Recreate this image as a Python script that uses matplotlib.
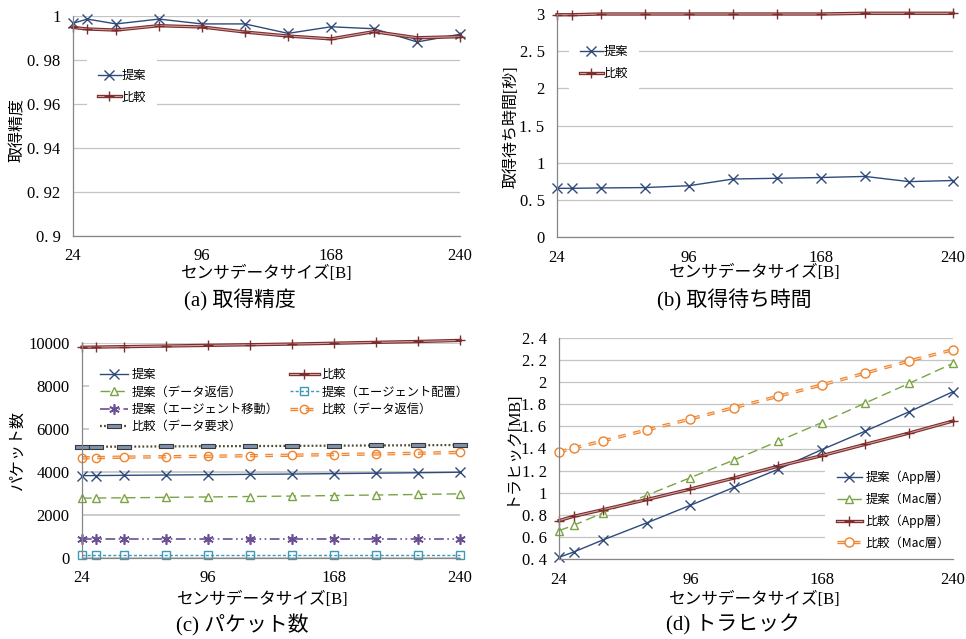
import matplotlib
matplotlib.use("Agg")
import matplotlib.pyplot as plt
from matplotlib.font_manager import FontProperties

plt.rcParams['lines.scale_dashes'] = False

# センサデータサイズ [B]
sizes = [24, 32, 48, 72, 96, 120, 144, 168, 192, 216, 240]
x_ticks = [24, 96, 168, 240]

# (a) 取得精度
acc_prop = [0.9967, 0.9986, 0.9964, 0.9986, 0.9964, 0.9964, 0.9921, 0.9951, 0.9942, 0.9882, 0.9917]
acc_comp = [0.9948, 0.9941, 0.9936, 0.9956, 0.9950, 0.9927, 0.9909, 0.9896, 0.9929, 0.9901, 0.9906]
acc_ticks = [0.9, 0.92, 0.94, 0.96, 0.98, 1.0]
acc_labels = ["0. 9", "0. 92", "0. 94", "0. 96", "0. 98", "1"]

# (b) 取得待ち時間 [秒]
wait_prop = [0.655, 0.655, 0.66, 0.665, 0.69, 0.78, 0.79, 0.80, 0.815, 0.745, 0.76]
wait_comp = [2.99, 2.99, 3.0, 3.0, 3.0, 3.0, 3.0, 3.0, 3.01, 3.01, 3.01]
wait_ticks = [0, 0.5, 1, 1.5, 2, 2.5, 3]
wait_labels = ["0", "0. 5", "1", "1. 5", "2", "2. 5", "3"]

# (c) パケット数
pk_prop = [3830, 3835, 3845, 3860, 3875, 3890, 3905, 3925, 3945, 3965, 3990]
pk_comp = [9800, 9810, 9830, 9860, 9890, 9920, 9950, 9990, 10030, 10070, 10120]
pk_prop_reply = [2780, 2790, 2800, 2820, 2840, 2860, 2880, 2905, 2930, 2955, 2985]
pk_prop_place = [120, 120, 120, 120, 120, 120, 120, 120, 120, 120, 120]
pk_prop_move = [895, 895, 895, 895, 895, 895, 895, 895, 895, 895, 895]
pk_comp_reply = [4660, 4670, 4690, 4710, 4730, 4760, 4780, 4810, 4840, 4870, 4910]
pk_comp_req = [5170, 5175, 5180, 5190, 5200, 5205, 5215, 5225, 5235, 5245, 5255]
pk_ticks = [0, 2000, 4000, 6000, 8000, 10000]
pk_labels = ["0", "2000", "4000", "6000", "8000", "10000"]

# (d) トラヒック [MB]
tr_prop_app = [0.415, 0.463, 0.572, 0.726, 0.886, 1.049, 1.211, 1.389, 1.558, 1.733, 1.914]
tr_prop_mac = [0.656, 0.705, 0.816, 0.976, 1.136, 1.296, 1.465, 1.634, 1.812, 1.990, 2.171]
tr_comp_app = [0.747, 0.786, 0.846, 0.937, 1.033, 1.133, 1.239, 1.335, 1.438, 1.540, 1.649]
tr_comp_mac = [1.368, 1.404, 1.468, 1.567, 1.667, 1.770, 1.872, 1.975, 2.083, 2.192, 2.294]
tr_ticks = [0.4, 0.6, 0.8, 1.0, 1.2, 1.4, 1.6, 1.8, 2.0, 2.2, 2.4]
tr_labels = ["0. 4", "0. 6", "0. 8", "1", "1. 2", "1. 4", "1. 6", "1. 8", "2", "2. 2", "2. 4"]

NAVY = '#2f4b7c'
RED = '#7d2c2c'
RED_IN = '#cfa0a0'
GREEN = '#7aa444'
TEAL = '#3e9ab8'
PURPLE = '#6a4f94'
ORANGE = '#f0822a'
ORANGE_IN = '#fbd8bc'
OLIVE = '#4f4a2c'
SLATE = '#7f93ad'

W, H = 966, 639
serif_cjk = ['Liberation Serif', 'Noto Sans CJK JP']
leg_font = FontProperties(family=['Noto Sans CJK JP', 'DejaVu Sans'], size=8.8)

fig = plt.figure(figsize=(W / 100, H / 100), dpi=100)


def make_axes(l, t, r, b):
    ax = fig.add_axes([l / W, 1 - b / H, (r - l) / W, (b - t) / H])
    for s in ('top', 'right'):
        ax.spines[s].set_visible(False)
    for s in ('left', 'bottom'):
        ax.spines[s].set_color('#868686')
        ax.spines[s].set_linewidth(0.9)
    ax.grid(axis='y', color='#c4c4c4', linewidth=0.9)
    ax.set_axisbelow(True)
    ax.set_xlim(24, 240)
    ax.tick_params(length=0, pad=9, labelsize=12)
    return ax


def set_y(ax, lo, hi, ticks, labels):
    ax.set_ylim(lo, hi)
    ax.set_yticks(ticks)
    ax.set_yticklabels(labels, family='Liberation Serif', fontsize=12)
    ax.set_xticks(x_ticks)
    ax.set_xticklabels([str(v) for v in x_ticks], family='Liberation Serif', fontsize=12)


def double_line(ax, y, outer, inner, marker, ms, ls='-', lw_out=2.4, lw_in=0.8, mfc='none'):
    halo = ax.plot(sizes, y, color=outer, lw=lw_out, ls=ls, clip_on=False, dash_capstyle='butt')[0]
    core = ax.plot(sizes, y, color=inner, lw=lw_in, ls=ls, marker=marker, ms=ms,
                   mec=outer, mfc=mfc, mew=1.0, clip_on=False, dash_capstyle='butt')[0]
    return (halo, core)


def texts(cx_lab, y_lab, ylab_x, ylab_y, ylab, cx_cap, y_cap, cap):
    fig.text(cx_lab / W, 1 - y_lab / H, "センサデータサイズ[B]", ha='center', va='center',
             family=serif_cjk, fontsize=12)
    fig.text(ylab_x / W, 1 - ylab_y / H, ylab, ha='center', va='center', rotation=90,
             family=serif_cjk, fontsize=11.5)
    fig.text(cx_cap / W, 1 - y_cap / H, cap, ha='center', va='center',
             family=serif_cjk, fontsize=15)


def place_legend(ax, handles, labels, x, y, **kw):
    leg = ax.legend(handles, labels, loc='upper left', bbox_to_anchor=(x / W, 1 - y / H),
                    bbox_transform=fig.transFigure, borderaxespad=0, prop=leg_font,
                    frameon=True, facecolor='white', edgecolor='none', framealpha=1,
                    fancybox=False, **kw)
    # white box hides the gridlines but stays under the data lines
    leg.set_zorder(1.5)
    return leg


# ---- (a) 取得精度
ax = make_axes(73, 16, 460, 236)
set_y(ax, 0.9, 1.0, acc_ticks, acc_labels)
h1 = ax.plot(sizes, acc_prop, color=NAVY, lw=1.0, marker='x', ms=6.5, mew=1.0, clip_on=False)[0]
h2 = double_line(ax, acc_comp, RED, RED_IN, '+', 7)
place_legend(ax, [h1, h2], ["提案", "比較"], 87, 58, handlelength=1.85,
             handletextpad=0.1, labelspacing=0.7, borderpad=0.9)
texts(267, 274, 18, 130, "取得精度", 240, 300, "(a) 取得精度")

# ---- (b) 取得待ち時間
ax = make_axes(557, 14, 953, 237)
set_y(ax, 0, 3, wait_ticks, wait_labels)
h1 = ax.plot(sizes, wait_prop, color=NAVY, lw=1.0, marker='x', ms=6.5, mew=1.0, clip_on=False)[0]
h2 = double_line(ax, wait_comp, RED, RED_IN, '+', 7)
place_legend(ax, [h1, h2], ["提案", "比較"], 569, 34, handlelength=1.85,
             handletextpad=0.1, labelspacing=0.75, borderpad=0.9)
texts(755, 273, 512, 127, "取得待ち時間[秒]", 734, 300, "(b) 取得待ち時間")

# ---- (c) パケット数
ax = make_axes(82, 343, 460, 558)
set_y(ax, 0, 10000, pk_ticks, pk_labels)
ax.grid(axis='y', color='#cccccc', linewidth=1.4)
c_prop = ax.plot(sizes, pk_prop, color=NAVY, lw=1.0, marker='x', ms=6.5, mew=1.0, clip_on=False)[0]
c_comp = double_line(ax, pk_comp, RED, RED_IN, '+', 7)
c_reply = ax.plot(sizes, pk_prop_reply, color=GREEN, lw=1.0, ls=(0, (7, 3.5)), marker='^',
                  ms=6, mew=1.0, mfc='white', clip_on=False)[0]
c_place = ax.plot(sizes, pk_prop_place, color=TEAL, lw=1.0, ls=(0, (2.2, 1.5)), marker='s',
                  ms=5.5, mew=1.0, mfc='none', clip_on=False)[0]
c_move = ax.plot(sizes, pk_prop_move, color=PURPLE, lw=1.2, ls=(0, (7, 2.5, 1.2, 2.5, 1.2, 2.5)),
                 marker=(6, 2, 0), ms=7.5, mew=1.2, clip_on=False)[0]
c_creply = double_line(ax, pk_comp_reply, ORANGE, ORANGE_IN, 'o', 6, ls=(0, (5.5, 5.5)))
rect = [(-1, -0.28), (1, -0.28), (1, 0.28), (-1, 0.28), (-1, -0.28)]
c_req = ax.plot(sizes, pk_comp_req, color=OLIVE, lw=1.6, ls=(0, (1.3, 1.6)), marker=rect,
                ms=9.5, mfc=SLATE, mec='#3a3a3a', mew=0.8, clip_on=False)[0]
handles = [c_prop, c_reply, c_move, c_req, c_comp, c_place, c_creply]
labels = ["提案", "提案（データ返信）", "提案（エージェント移動）", "比較（データ要求）",
          "比較", "提案（エージェント配置）", "比較（データ返信）"]
place_legend(ax, handles, labels, 89, 357, ncol=2, handlelength=2.3, handletextpad=0.25,
             labelspacing=0.36, columnspacing=1.0, borderpad=0.9)
texts(263, 600, 18, 450, "パケット数", 242, 625, "(c) パケット数")

# ---- (d) トラヒック
ax = make_axes(559, 338, 953, 559)
set_y(ax, 0.4, 2.4, tr_ticks, tr_labels)
d1 = ax.plot(sizes, tr_prop_app, color=NAVY, lw=1.0, marker='x', ms=6.5, mew=1.0, clip_on=False)[0]
d2 = ax.plot(sizes, tr_prop_mac, color=GREEN, lw=1.0, ls=(0, (7, 3.5)), marker='^',
             ms=6, mew=1.0, mfc='white', clip_on=False)[0]
d3 = double_line(ax, tr_comp_app, RED, RED_IN, '+', 7)
d4 = double_line(ax, tr_comp_mac, ORANGE, ORANGE_IN, 'o', 6.5, ls=(0, (5.5, 5.5)), mfc='white')
# blank title only widens the white box upward so it hides the 1.2 gridline
place_legend(ax, [d1, d2, d3, d4], ["提案（App層）", "提案（Mac層）", "比較（App層）", "比較（Mac層）"],
             825, 440, handlelength=2.0, handletextpad=0.3, labelspacing=0.7, borderpad=1.0,
             title=' ', title_fontsize=7)
texts(755, 600, 512, 447, "トラヒック[MB]", 733, 625, "(d) トラヒック")

fig.savefig("out.png", dpi=100)
